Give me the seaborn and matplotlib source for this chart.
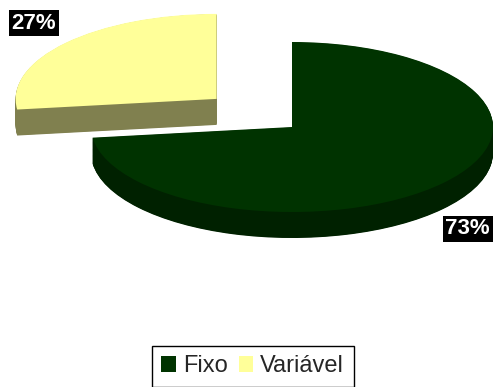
import numpy as np
import matplotlib
matplotlib.use("Agg")
import matplotlib.pyplot as plt
from matplotlib.patches import Patch
import seaborn as sns

# Cost composition
categories = ["Fixo", "Variável"]
shares = [73, 27]
pct_labels = ["73%", "27%"]

top_colors = ["#003300", "#FFFF99"]
side_colors = ["#002100", "#80804F"]
explode = [0.0, 0.5]

sns.set_theme(style="white")
plt.rcParams["font.family"] = ["Liberation Sans", "DejaVu Sans"]

fig = plt.figure(figsize=(4.93, 3.87), dpi=100)
ax = fig.add_axes([0, 0, 1, 1])

# Extruded pie: stack darker copies below the top face to form the walls
depth = 0.306
n_layers = 48
wedge_kw = dict(linewidth=0, antialiased=True)
for k in range(n_layers):
    yoff = -depth + depth * k / n_layers
    ax.pie(shares, colors=side_colors, explode=explode, startangle=90,
           counterclock=False, center=(0, yoff), wedgeprops=wedge_kw)

wedges, _ = ax.pie(shares, colors=top_colors, explode=explode, startangle=90,
                   counterclock=False, center=(0, 0), wedgeprops=wedge_kw)

# Percentage labels in black boxes, placed outside each slice
for w, txt in zip(wedges, pct_labels):
    mid = np.deg2rad((w.theta1 + w.theta2) / 2)
    cx, cy = w.center
    lx = cx + 1.19 * np.cos(mid) - 0.018
    ly = cy + 1.35 * np.sin(mid)
    if np.sin(mid) < 0:
        ly -= depth
    ax.text(lx, ly, txt, ha="center", va="center", color="white",
            fontsize=16, fontweight="bold",
            bbox=dict(boxstyle="square,pad=0.12", facecolor="black",
                      edgecolor="none"))

ax.set_aspect("auto")
ax.set_xlim(-292 / 201, 201 / 201)
ax.set_ylim(-260 / 85, 127 / 85)
ax.set_axis_off()

# Legend
handles = [Patch(facecolor=c, edgecolor="none") for c in top_colors]
leg = fig.legend(handles, categories, loc="upper left",
                 bbox_to_anchor=(152 / 493, 1 - 346 / 387),
                 bbox_transform=fig.transFigure, borderaxespad=0,
                 ncol=2, fontsize=17, frameon=True, fancybox=False,
                 handlelength=0.62, handleheight=0.62, handletextpad=0.3,
                 columnspacing=0.45, borderpad=0.4)
frame = leg.get_frame()
frame.set_edgecolor("black")
frame.set_linewidth(1.0)
frame.set_facecolor("white")
frame.set_alpha(1.0)

fig.savefig("out.png", dpi=100)
